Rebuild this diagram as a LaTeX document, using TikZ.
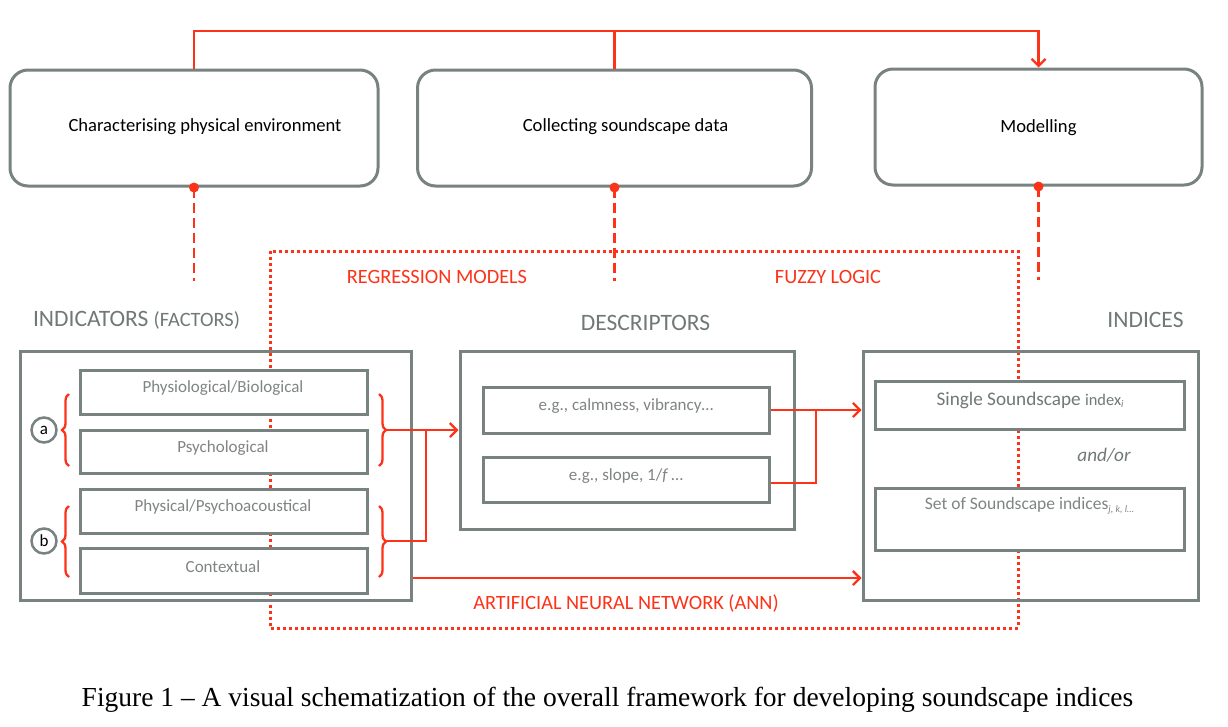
\documentclass[tikz,border=0pt]{standalone}
\usepackage{fontspec}
\setmainfont{Carlito}
\newfontfamily\capfont[Ligatures=TeX]{Liberation Serif}
\usetikzlibrary{arrows.meta,decorations.pathreplacing,calc}
\definecolor{fred}{RGB}{252,50,25}
\definecolor{bgray}{RGB}{120,130,128}
\definecolor{tgray}{RGB}{128,132,132}
\definecolor{lgray}{RGB}{112,120,120}
\newcommand{\fsz}[1]{\fontsize{#1}{#1}\selectfont}
\begin{document}
\begin{tikzpicture}[x=1pt,y=-1pt,
  topbox/.style={draw=bgray,line width=3pt,rounded corners=18pt,minimum width=#1,minimum height=116pt,inner sep=0pt,fill=white},
  outbox/.style={draw=bgray,line width=3pt,inner sep=0pt},
  inbox/.style={draw=bgray,line width=3pt,fill=white,inner sep=0pt},
  intext/.style={inner sep=0pt,text=tgray,font=\fsz{17}},
  toptext/.style={font=\fsz{18.6},text=black,inner sep=0pt},
  head/.style={font=\fsz{23.5},text=lgray,inner sep=0pt},
  redlab/.style={font=\fsz{20.3},text=fred,inner sep=0pt},
  redline/.style={draw=fred,line width=2.3pt},
  redarrow/.style={draw=fred,line width=2.3pt,-{Straight Barb[length=7pt,width=14pt,line width=2.3pt]}},
  reddash/.style={draw=fred,line width=2.3pt,dash pattern=on 10pt off 5pt},
  reddot/.style={draw=fred,line width=3pt,dash pattern=on 3pt off 3pt},
  bracestyle/.style={draw=fred,line width=2.3pt,decorate,decoration={brace,amplitude=7pt}},
  letter/.style={circle,draw=bgray,line width=2.5pt,minimum size=25pt,inner sep=0pt,font=\fsz{17}}
]
\useasboundingbox (0,0) rectangle (1228,726);

% dotted frame (behind everything)
\draw[reddot] (270,251) rectangle (1018,628);

% top boxes
\node[topbox=368pt] (t1) at (194,128) {};
\node[topbox=394pt] (t2) at (614.5,128) {};
\node[topbox=327pt] (t3) at (1038.5,127) {};
\node[toptext] (t1t) at (205,127) {Characterising physical environment};
\node[toptext] (t2t) at (625.5,127) {Collecting soundscape data};
\node[toptext] (t3t) at (1038.5,128) {Modelling};

% top red connector
\draw[redline] (t2.north) -- (t2.north |- 0,31);
\draw[redarrow] (t1.north) -- (t1.north |- 0,31) -| (t3.north);

% dashed drops with dots
\foreach \n in {t1,t2,t3}{
  \draw[reddash] (\n.south) -- ++(0,93);
  \fill[fred] (\n.south) circle (5pt);
}

% red method labels
\node[redlab] (reg) at (437,277) {REGRESSION MODELS};
\node[redlab] (fuz) at (828,277) {FUZZY LOGIC};
\node[redlab] (ann) at (626,603) {ARTIFICIAL NEURAL NETWORK (ANN)};

% headings
\node[head] (indl) at (136.5,320) {INDICATORS {\fsz{20.4}(FACTORS)}};
\node[head] (desl) at (645.5,323) {DESCRIPTORS};
\node[head] (idxl) at (1145.5,320) {INDICES};

% indicators block
\node[outbox,minimum width=391pt,minimum height=249pt] (L) at (216,475.5) {};
\node[inbox,minimum width=287pt,minimum height=44pt] (i1) at (223.5,392) {};
\node[inbox,minimum width=287pt,minimum height=43pt] (i2) at (223.5,451.5) {};
\node[inbox,minimum width=287pt,minimum height=44pt] (i3) at (223.5,511) {};
\node[inbox,minimum width=287pt,minimum height=45pt] (i4) at (223.5,570.5) {};
\node[intext] (i1t) at (223,388) {Physiological/Biological};
\node[intext] (i2t) at (223,448) {Psychological};
\node[intext] (i3t) at (223,507) {Physical/Psychoacoustical};
\node[intext] (i4t) at (223,567) {Contextual};

\node[letter] (ca) at (44,430) {a};
\node[letter] (cb) at (44,541) {b};
\draw[bracestyle] (69,466) -- (69,394);
\draw[bracestyle] (69,577) -- (69,506);
\draw[bracestyle] (379,394) -- (379,466);
\draw[bracestyle] (379,506) -- (379,577);
\coordinate (ra) at (386,430);
\coordinate (rb) at (386,541);
\coordinate (ja) at (426,430);

% descriptors block
\node[outbox,minimum width=334pt,minimum height=178pt] (D) at (627,440) {};
\node[inbox,minimum width=286pt,minimum height=46pt] (d1) at (626,410) {};
\node[inbox,minimum width=286pt,minimum height=45pt] (d2) at (626,479.5) {};
\node[intext] (d1t) at (626,406) {e.g., calmness, vibrancy\dots};
\node[intext] (d2t) at (626,476) {e.g., slope, 1/\textit{f}\,\dots};

% indices block
\node[outbox,minimum width=335pt,minimum height=249pt] (I) at (1030.5,475.5) {};
\node[inbox,minimum width=309pt,minimum height=48pt] (s1) at (1029.5,405) {};
\node[inbox,minimum width=309pt,minimum height=62pt] (s2) at (1029.5,519) {};
\node[intext,text=lgray,font=\fsz{19.2}] (s1t) at (1030,400) {Single Soundscape {\fsz{16.4}index\raisebox{-2.5pt}{\fsz{10}\itshape i}}};
\node[intext,font=\fsz{17.5}] (s2t) at (1029.5,506) {Set of Soundscape indices\raisebox{-2.5pt}{\fsz{10}\itshape j, k, l\dots}};
\node[inner sep=0pt,text=lgray,font=\fsz{19.2}\itshape] (andor) at (1104,455) {and/or};

% red connectors
\draw[redline] (rb) -| (ja);
\draw[redarrow] (ra) -- (ra -| D.west);
\coordinate (dj) at (816,409);
\draw[redline] (d2.east |- 0,483) -| (dj);
\draw[redarrow] (d1.east) -- (d1.east -| I.west);
\coordinate (annS) at (413,578);
\draw[redarrow] (annS) -- (annS -| I.west);

% caption
\node[inner sep=0pt,font=\capfont\fsz{27.5}] (cap) at (607.5,700) {Figure 1 – A visual schematization of the overall framework for developing soundscape indices};
\end{tikzpicture}
\end{document}
